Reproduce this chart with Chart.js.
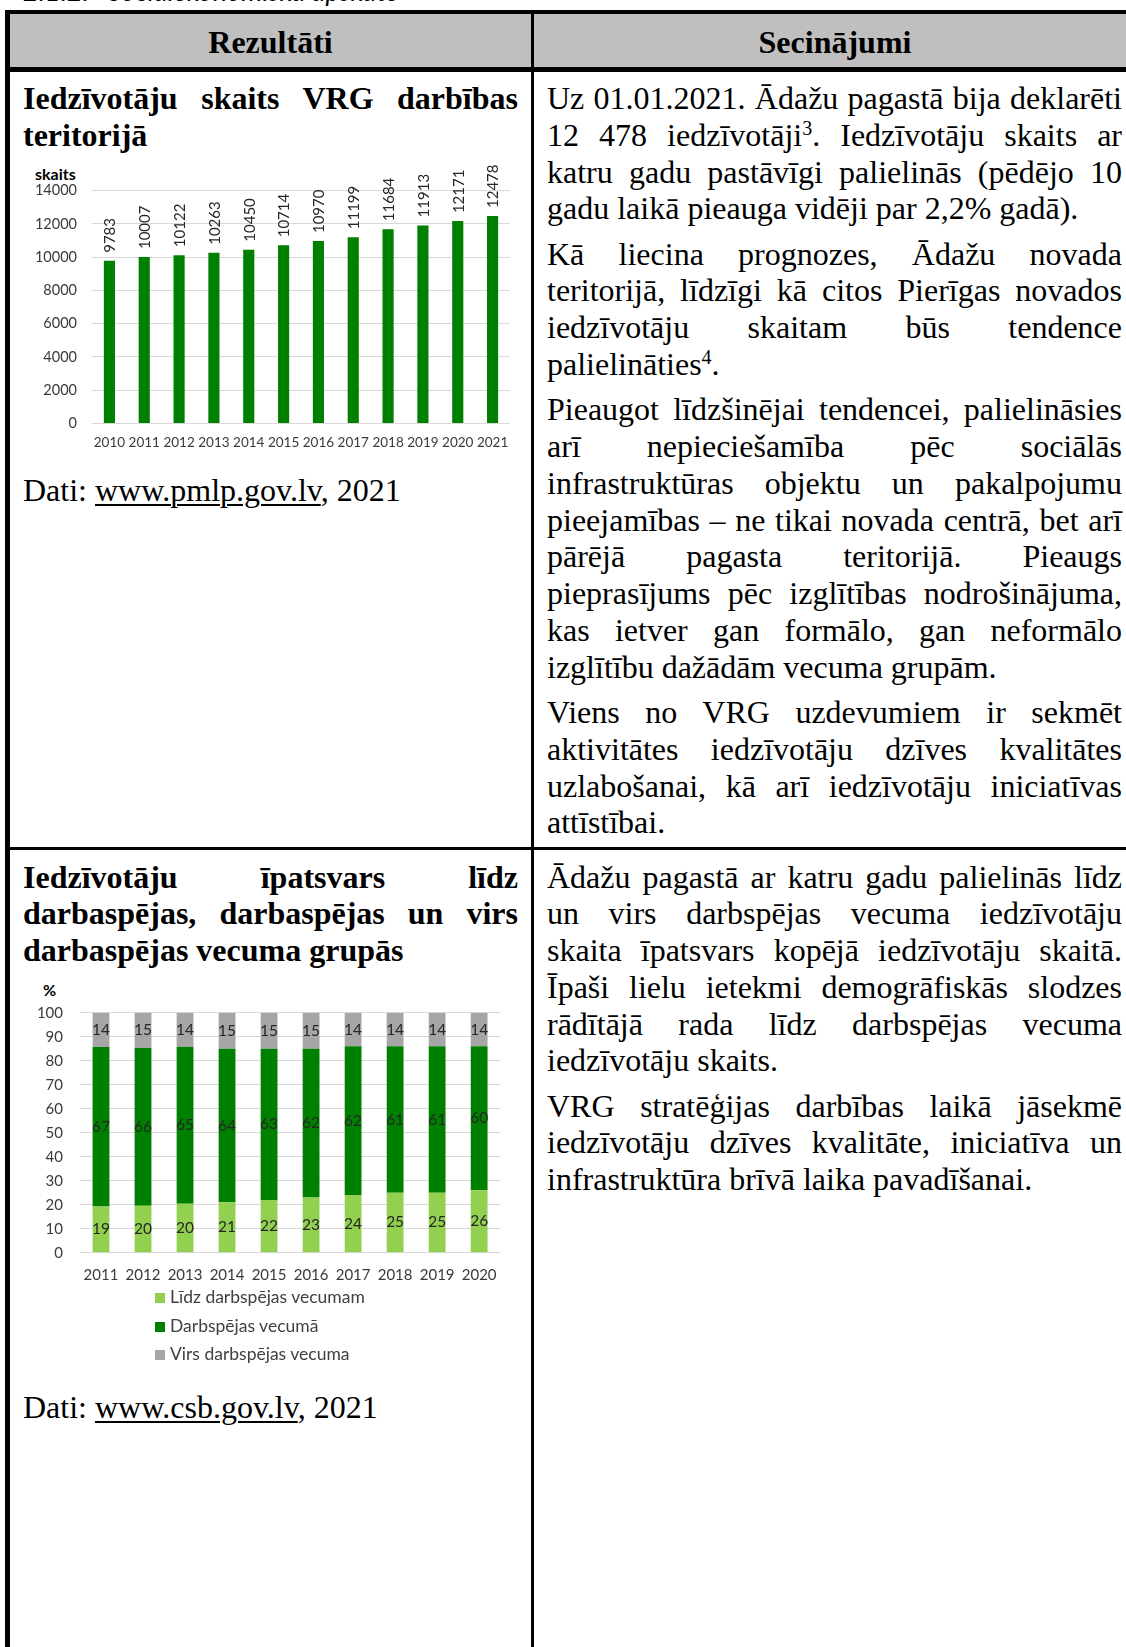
<!DOCTYPE html>
<html lang="lv">
<head>
<meta charset="utf-8">
<title>Iedzīvotāju skaits</title>
<script src="https://cdn.jsdelivr.net/npm/chart.js@4.4.1/dist/chart.umd.min.js"></script>
<style>
  html, body { margin: 0; padding: 0; background: #fff; }
  body {
    position: relative; width: 1126px; height: 1647px; overflow: hidden;
    font-family: 'Liberation Serif', 'Times New Roman', serif;
    font-size: 32px; line-height: 36.8px; color: #000;
  }
  .abs { position: absolute; }
  .rule { position: absolute; background: #000; }
  .cell p { margin: 0 0 8.4px 0; }
  .cell .j { text-align: justify; text-align-last: justify; }
  .head { font-weight: bold; }
  sup { font-size: 20px; line-height: 0; vertical-align: 11px; }
  a { color: #000; text-decoration: underline; text-decoration-thickness: 1.5px; text-underline-offset: 3px; }
  .caption { font-family: Lato, sans-serif; font-style: italic; font-size: 27px; top: -24px; left: 23px; line-height: 30px; white-space: pre; }
  .unit { font-family: Lato, sans-serif; font-weight: bold; font-size: 16px; line-height: 18px; color: #000; }
  .legend { font-family: Lato, sans-serif; font-size: 17.5px; color: #404040; line-height: 28.5px; }
  .legend span.box { display: inline-block; width: 10px; height: 10px; margin-right: 5px; vertical-align: 0px; }
</style>
</head>
<body>

<div class="abs caption">2.1.2.   Sociālekonomiskā apskate</div>

<!-- table frame -->
<div class="abs" style="left:10px; top:14px; width:1126px; height:53px; background:#bfbfbf;"></div>
<div class="rule" style="left:5px; top:9.5px; width:1131px; height:4.5px;"></div>
<div class="rule" style="left:5px; top:9.5px; width:5px; height:1700px;"></div>
<div class="rule" style="left:5px; top:67px; width:1131px; height:4.5px;"></div>
<div class="rule" style="left:530.5px; top:9.5px; width:3px; height:1700px;"></div>
<div class="rule" style="left:5px; top:847px; width:1131px; height:3px;"></div>

<div class="abs head" style="left:10px; width:521px; top:24px; text-align:center;">Rezultāti</div>
<div class="abs head" style="left:534px; width:602px; top:24px; text-align:center;">Secinājumi</div>

<!-- row 1 left -->
<div class="abs cell head" style="left:23px; width:495px; top:80px;">
  <div class="j">Iedzīvotāju skaits VRG darbības</div>
  <div>teritorijā</div>
</div>
<div class="abs unit" style="left:35px; top:165px;">skaits</div>
<canvas id="popChart" class="abs" width="500" height="300" style="left:20px; top:160px;"></canvas>
<div class="abs cell" style="left:23px; top:472px;">Dati: <a>www.pmlp.gov.lv</a>, 2021</div>

<!-- row 1 right -->
<div class="abs cell" style="left:547px; width:575px; top:80px;">
  <p>
    <span class="j" style="display:block">Uz 01.01.2021. Ādažu pagastā bija deklarēti</span>
    <span class="j" style="display:block">12 478 iedzīvotāji<sup>3</sup>. Iedzīvotāju skaits ar</span>
    <span class="j" style="display:block">katru gadu pastāvīgi palielinās (pēdējo 10</span>
    <span style="display:block">gadu laikā pieauga vidēji par 2,2% gadā).</span>
  </p>
  <p>
    <span class="j" style="display:block">Kā liecina prognozes, Ādažu novada</span>
    <span class="j" style="display:block">teritorijā, līdzīgi kā citos Pierīgas novados</span>
    <span class="j" style="display:block">iedzīvotāju skaitam būs tendence</span>
    <span style="display:block">palielināties<sup>4</sup>.</span>
  </p>
  <p>
    <span class="j" style="display:block">Pieaugot līdzšinējai tendencei, palielināsies</span>
    <span class="j" style="display:block">arī nepieciešamība pēc sociālās</span>
    <span class="j" style="display:block">infrastruktūras objektu un pakalpojumu</span>
    <span class="j" style="display:block">pieejamības – ne tikai novada centrā, bet arī</span>
    <span class="j" style="display:block">pārējā pagasta teritorijā. Pieaugs</span>
    <span class="j" style="display:block">pieprasījums pēc izglītības nodrošinājuma,</span>
    <span class="j" style="display:block">kas ietver gan formālo, gan neformālo</span>
    <span style="display:block">izglītību dažādām vecuma grupām.</span>
  </p>
  <p>
    <span class="j" style="display:block">Viens no VRG uzdevumiem ir sekmēt</span>
    <span class="j" style="display:block">aktivitātes iedzīvotāju dzīves kvalitātes</span>
    <span class="j" style="display:block">uzlabošanai, kā arī iedzīvotāju iniciatīvas</span>
    <span style="display:block">attīstībai.</span>
  </p>
</div>

<!-- row 2 left -->
<div class="abs cell head" style="left:23px; width:495px; top:858.5px;">
  <div class="j">Iedzīvotāju īpatsvars līdz</div>
  <div class="j">darbaspējas, darbaspējas un virs</div>
  <div>darbaspējas vecuma grupās</div>
</div>
<div class="abs unit" style="left:43px; top:981px;">%</div>
<canvas id="ageChart" class="abs" width="490" height="310" style="left:20px; top:975px;"></canvas>
<div id="ageLegend" class="abs legend" style="left:155px; top:1283px;"></div>
<div class="abs cell" style="left:23px; top:1389px;">Dati: <a>www.csb.gov.lv</a>, 2021</div>

<!-- row 2 right -->
<div class="abs cell" style="left:547px; width:575px; top:858.5px;">
  <p>
    <span class="j" style="display:block">Ādažu pagastā ar katru gadu palielinās līdz</span>
    <span class="j" style="display:block">un virs darbspējas vecuma iedzīvotāju</span>
    <span class="j" style="display:block">skaita īpatsvars kopējā iedzīvotāju skaitā.</span>
    <span class="j" style="display:block">Īpaši lielu ietekmi demogrāfiskās slodzes</span>
    <span class="j" style="display:block">rādītājā rada līdz darbspējas vecuma</span>
    <span style="display:block">iedzīvotāju skaits.</span>
  </p>
  <p>
    <span class="j" style="display:block">VRG stratēģijas darbības laikā jāsekmē</span>
    <span class="j" style="display:block">iedzīvotāju dzīves kvalitāte, iniciatīva un</span>
    <span style="display:block">infrastruktūra brīvā laika pavadīšanai.</span>
  </p>
</div>

<script>
// population, 1 Jan each year
const popYears = ['2010', '2011', '2012', '2013', '2014', '2015', '2016', '2017', '2018', '2019', '2020', '2021'];
const population = [9783, 10007, 10122, 10263, 10450, 10714, 10970, 11199, 11684, 11913, 12171, 12478];

// age group shares, %
const ageYears = ['2011', '2012', '2013', '2014', '2015', '2016', '2017', '2018', '2019', '2020'];
const ageGroups = ['Līdz darbspējas vecumam', 'Darbspējas vecumā', 'Virs darbspējas vecuma'];
const belowWorking = [19.2, 19.6, 20.4, 21, 22, 23, 24, 25, 25, 26];
const working = [66.5, 65.7, 65.4, 64, 63, 62, 62, 61, 61, 60];
const aboveWorking = [14.3, 14.7, 14.2, 15, 15, 15, 14, 14, 14, 14];

Chart.defaults.font.family = 'Lato, sans-serif';
Chart.defaults.color = '#3a3a3a';
Chart.defaults.animation = false;

const gridColor = '#d9d9d9';
const groupColors = ['#92d050', '#008000', '#a6a6a6'];

const barValueLabels = {
  id: 'barValueLabels',
  afterDatasetsDraw(chart) {
    const ctx = chart.ctx;
    const meta = chart.getDatasetMeta(0);
    ctx.save();
    ctx.font = '15px Lato, sans-serif';
    ctx.fillStyle = '#262626';
    ctx.textAlign = 'left';
    ctx.textBaseline = 'middle';
    meta.data.forEach((bar, i) => {
      ctx.save();
      ctx.translate(bar.x + 1, bar.y - 8);
      ctx.rotate(-Math.PI / 2);
      ctx.fillText(String(population[i]), 0, 0);
      ctx.restore();
    });
    ctx.restore();
  },
};

const segmentLabels = {
  id: 'segmentLabels',
  afterDatasetsDraw(chart) {
    const ctx = chart.ctx;
    ctx.save();
    ctx.font = '15.5px Lato, sans-serif';
    ctx.fillStyle = '#262626';
    ctx.textAlign = 'center';
    ctx.textBaseline = 'middle';
    chart.data.datasets.forEach((ds, d) => {
      chart.getDatasetMeta(d).data.forEach((bar, i) => {
        ctx.fillText(String(Math.round(ds.data[i])), bar.x, (bar.y + bar.base) / 2);
      });
    });
    ctx.restore();
  },
};

new Chart(document.getElementById('popChart'), {
  type: 'bar',
  data: {
    labels: popYears,
    datasets: [
      {
        label: 'skaits',
        data: population,
        backgroundColor: '#008000',
        categoryPercentage: 1,
        barPercentage: 0.32,
      },
    ],
  },
  options: {
    responsive: false,
    layout: { padding: { top: 30.7, right: 10, left: 0, bottom: 0 } },
    plugins: { legend: { display: false }, tooltip: { enabled: false } },
    scales: {
      x: {
        grid: { display: false, drawTicks: false },
        border: { display: false },
        ticks: { font: { size: 13.5 }, padding: 11, autoSkip: false, maxRotation: 0 },
        afterFit(scale) { scale.height = 36.6; },
      },
      y: {
        min: 0,
        max: 14000,
        grid: { color: gridColor, drawTicks: false },
        border: { display: false },
        ticks: { stepSize: 2000, font: { size: 14.5 }, padding: 15, callback: (v) => String(v) },
        afterFit(scale) { scale.width = 72; },
      },
    },
  },
  plugins: [barValueLabels],
});

const ageSeries = [belowWorking, working, aboveWorking];

new Chart(document.getElementById('ageChart'), {
  type: 'bar',
  data: {
    labels: ageYears,
    datasets: ageSeries.map((values, i) => ({
      label: ageGroups[i],
      data: values,
      backgroundColor: groupColors[i],
      categoryPercentage: 1,
      barPercentage: 0.4,
    })),
  },
  options: {
    responsive: false,
    layout: { padding: { top: 37.7, right: 9, left: 0, bottom: 0 } },
    plugins: { legend: { display: false }, tooltip: { enabled: false } },
    scales: {
      x: {
        stacked: true,
        grid: { display: false, drawTicks: false },
        border: { display: false },
        ticks: { font: { size: 15 }, padding: 13, autoSkip: false, maxRotation: 0 },
        afterFit(scale) { scale.height = 32.3; },
      },
      y: {
        stacked: true,
        min: 0,
        max: 100,
        grid: { color: gridColor, drawTicks: false },
        border: { display: false },
        ticks: { stepSize: 10, font: { size: 15 }, padding: 17 },
        afterFit(scale) { scale.width = 60; },
      },
    },
  },
  plugins: [segmentLabels],
});

// legend, one item per line
const legendBox = document.getElementById('ageLegend');
ageGroups.forEach((name, i) => {
  const row = document.createElement('div');
  row.innerHTML = '<span class="box" style="background:' + groupColors[i] + '"></span>' + name;
  legendBox.appendChild(row);
});
</script>
</body>
</html>
